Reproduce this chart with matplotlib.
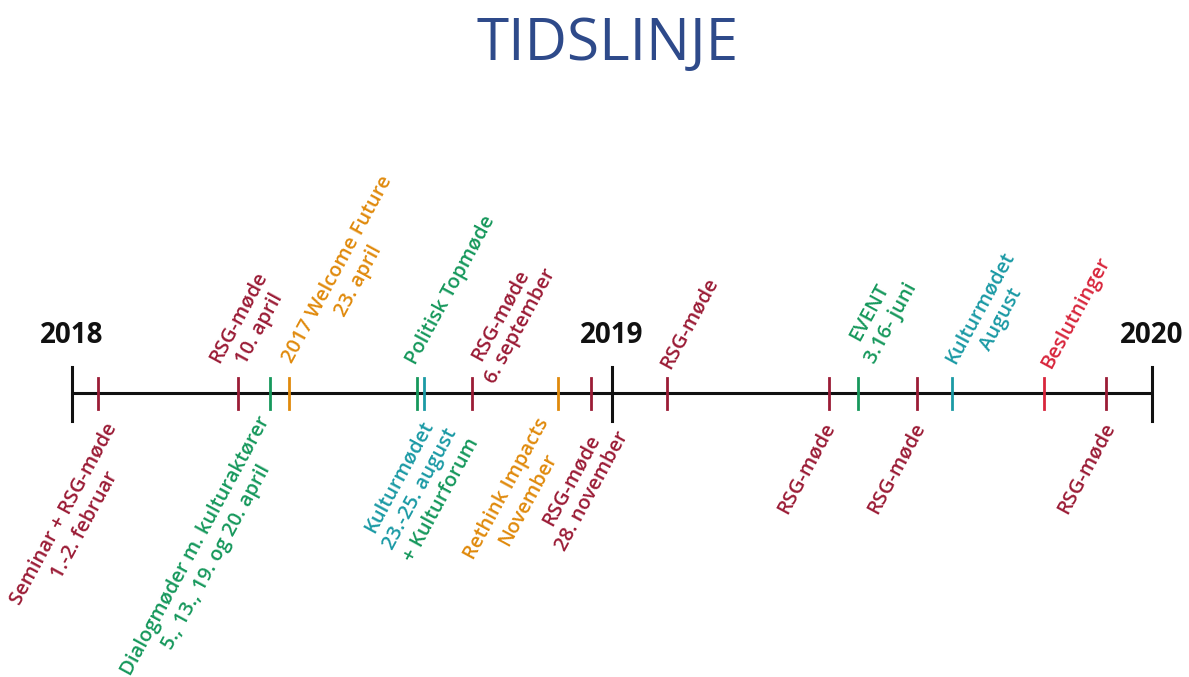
import matplotlib
matplotlib.use("Agg")
import matplotlib.pyplot as plt
import numpy as np
from matplotlib.font_manager import FontProperties

# ---------------- data ----------------
title = "TIDSLINJE"
years = [2018, 2019, 2020]
year_labels = ["2018", "2019", "2020"]

# event ticks (fractional year) and colours
event_x = [2018.048, 2018.307, 2018.367, 2018.402, 2018.639, 2018.652, 2018.741,
           2018.900, 2018.961, 2019.102, 2019.402, 2019.456, 2019.565, 2019.630,
           2019.800, 2019.915]
event_color = ["darkred", "darkred", "green", "orange", "green", "teal", "darkred",
               "orange", "darkred", "darkred", "darkred", "green", "darkred", "teal",
               "red", "darkred"]

# labels: which event, side, lines, per-line colours
label_event = [0, 1, 2, 3, 4, 5, 6, 7, 8, 9, 10, 11, 12, 13, 14, 15]
label_side = ["below", "above", "below", "above", "above", "below", "above",
              "below", "below", "above", "below", "above", "below", "above",
              "above", "below"]
label_lines = [
    ["Seminar + RSG-møde", "1.-2. februar"],
    ["RSG-møde", "10. april"],
    ["Dialogmøder m. kulturaktører", "5., 13., 19. og 20. april"],
    ["2017 Welcome Future", "23. april"],
    ["Politisk Topmøde"],
    ["Kulturmødet", "23.-25. august", "+ Kulturforum"],
    ["RSG-møde", "6. september"],
    ["Rethink Impacts", "November"],
    ["RSG-møde", "28. november"],
    ["RSG-møde"],
    ["RSG-møde"],
    ["EVENT", "3.16- juni"],
    ["RSG-møde"],
    ["Kulturmødet", "August"],
    ["Beslutninger"],
    ["RSG-møde"],
]
label_line_colors = [
    ["darkred", "darkred"],
    ["darkred", "darkred"],
    ["green", "green"],
    ["orange", "orange"],
    ["green"],
    ["teal", "teal", "green"],
    ["darkred", "darkred"],
    ["orange", "orange"],
    ["darkred", "darkred"],
    ["darkred"],
    ["darkred"],
    ["green", "green"],
    ["darkred"],
    ["teal", "teal"],
    ["red"],
    ["darkred"],
]

# ---------------- style / layout ----------------
palette = {"darkred": "#9b1c36", "red": "#d8263c", "green": "#16985c",
           "teal": "#1b9aa5", "orange": "#e08a0c"}
title_color = "#2e4a8a"
W, H = 1189, 677
px_per_year = 540.0
x0_px = 72.0
axis_y = 393
tick_top, tick_bot = 378, 409
ytick_top, ytick_bot = 367, 421
angle = 61.5
fs = 14.5
line_h = 24.0
# nudges (image pixels, y down) of label anchor from tick end
label_nudge = [(25, 21), (-13, -11), (6, 14), (9, -11), (-6, -15), (29, 19),
               (8, -1), (-3, 16), (23, 18), (-2, -11), (1, 15), (1, -21),
               (3, 15), (9, -10), (2, -11), (4, 15)]

plt.rcParams["font.family"] = ["Open Sans", "DejaVu Sans"]

fig = plt.figure(figsize=(W / 100, H / 100), dpi=100)
ax = fig.add_axes([0, 0, 1, 1])
ax.set_xlim(years[0] - x0_px / px_per_year, years[0] + (W - x0_px) / px_per_year)
ax.set_ylim(H, 0)
ax.axis("off")

# main axis line
ax.plot([years[0], years[-1]], [axis_y, axis_y], color="#111111", lw=2.2,
        solid_capstyle="butt", zorder=2)
for yv, yl in zip(years, year_labels):
    ax.plot([yv, yv], [ytick_top, ytick_bot], color="#111111", lw=2.2, zorder=3)
    ax.text(yv, 343, yl, ha="center", va="baseline", fontsize=20,
            fontweight="bold", color="#111111")

for xv, c in zip(event_x, event_color):
    ax.plot([xv, xv], [tick_top, tick_bot], color=palette[c], lw=2.0, zorder=3)

fig.text(608 / W, 1 - 60 / H, title, ha="center", va="baseline", fontsize=42,
         color=title_color)

renderer = fig.canvas.get_renderer()
prop = FontProperties(family=["Open Sans", "DejaVu Sans"], size=fs, weight="semibold")
th = np.deg2rad(angle)
u = np.array([np.cos(th), np.sin(th)])
nrm = np.array([-np.sin(th), np.cos(th)])

for ev, side, lines, cols, (ndx, ndy) in zip(label_event, label_side, label_lines,
                                            label_line_colors, label_nudge):
    xv = event_x[ev]
    yb = tick_top if side == "above" else tick_bot
    widths = [renderer.get_text_width_height_descent(s, prop, ismath=False)[0]
              for s in lines]
    lmax = max(widths)
    along = lmax / 2 if side == "above" else -lmax / 2
    n = len(lines)
    for i, (s, c) in enumerate(zip(lines, cols)):
        p = ((n - 1) / 2 - i) * line_h
        off = np.array([ndx, -ndy]) + u * along + nrm * p
        ax.annotate(s, xy=(xv, yb), xytext=(off[0], off[1]),
                    textcoords="offset pixels", ha="center", va="center",
                    rotation=angle, rotation_mode="anchor", fontproperties=prop,
                    color=palette[c], annotation_clip=False)

fig.savefig("out.png", dpi=100)
